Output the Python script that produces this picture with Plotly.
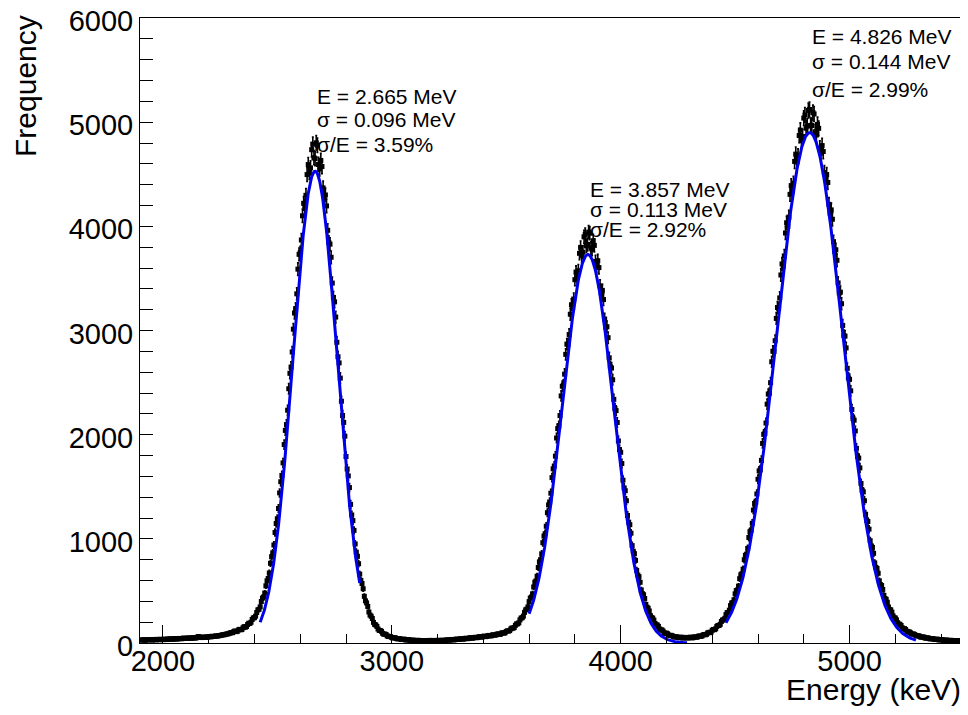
import numpy as np
import plotly.graph_objects as go

# ---------------- data ----------------
bin_width = 5  # keV
energy_keV = list(range(1905, 5500, bin_width))  # bin centres 1905 ... 5495

counts = [
    # 1905 - 2300
    27, 30, 31, 28, 26, 31, 30, 33, 33, 29, 29, 34, 32, 30, 35, 33, 31, 36, 34, 32,
    37, 35, 33, 38, 36, 39, 40, 36, 37, 42, 41, 38, 39, 43, 44, 41, 42, 47, 46, 43,
    44, 49, 48, 45, 46, 50, 51, 47, 49, 55, 62, 58, 55, 52, 53, 57, 58, 54, 56, 60,
    61, 59, 65, 62, 63, 67, 68, 66, 72, 71, 75, 78, 79, 80, 84, 87, 88, 93, 97, 100,
    # 2305 - 3100
    99, 110, 116, 109, 112, 125, 131, 127, 129, 146, 157, 151, 158, 177, 190, 188, 199, 226, 241, 243,
    258, 293, 318, 323, 347, 398, 431, 442, 479, 549, 597, 619, 672, 765, 829, 866, 941, 1061, 1147, 1193,
    1291, 1441, 1548, 1609, 1729, 1905, 2041, 2097, 2235, 2441, 2589, 2649, 2794, 3013, 3168, 3209, 3352, 3589, 3731, 3748,
    3869, 4101, 4221, 4198, 4298, 4497, 4593, 4517, 4561, 4736, 4788, 4659, 4650, 4802, 4779, 4594, 4551, 4632, 4574, 4369,
    4282, 4301, 4196, 3962, 3846, 3829, 3703, 3455, 3318, 3275, 3129, 2887, 2748, 2689, 2543, 2321, 2184, 2118, 1986, 1790,
    1671, 1604, 1492, 1331, 1229, 1175, 1081, 951, 872, 832, 761, 661, 601, 571, 521, 448, 405, 385, 351, 298,
    268, 257, 235, 198, 178, 173, 159, 134, 121, 120, 112, 93, 84, 86, 81, 68, 62, 64, 61, 52,
    48, 51, 50, 43, 39, 42, 41, 35, 33, 37, 36, 30, 29, 32, 31, 26, 25, 28, 27, 24,
    # 3105 - 4300
    23, 25, 26, 22, 21, 24, 24, 21, 20, 24, 23, 21, 25, 22, 21, 25, 24, 21, 22, 25,
    26, 22, 23, 26, 27, 24, 25, 29, 31, 27, 28, 32, 34, 30, 31, 36, 38, 34, 35, 40,
    41, 37, 38, 44, 46, 41, 43, 49, 51, 46, 47, 53, 55, 51, 52, 59, 61, 56, 58, 64,
    66, 61, 63, 70, 73, 68, 69, 77, 79, 75, 77, 85, 88, 83, 85, 95, 99, 94, 98, 110,
    117, 114, 119, 135, 144, 142, 149, 170, 183, 184, 194, 222, 239, 243, 258, 294, 318, 325, 347, 397,
    431, 441, 472, 538, 583, 596, 641, 725, 779, 800, 856, 963, 1027, 1049, 1121, 1251, 1326, 1354, 1438, 1588,
    1672, 1698, 1794, 1968, 2058, 2083, 2183, 2372, 2465, 2477, 2581, 2771, 2869, 2869, 2961, 3156, 3247, 3221, 3302, 3488,
    3561, 3511, 3574, 3741, 3798, 3716, 3752, 3899, 3921, 3812, 3826, 3945, 3934, 3791, 3779, 3862, 3817, 3662, 3618, 3670,
    3604, 3428, 3362, 3385, 3297, 3110, 3031, 3036, 2931, 2738, 2652, 2640, 2527, 2339, 2251, 2231, 2117, 1940, 1856, 1831,
    1723, 1563, 1489, 1462, 1366, 1224, 1160, 1136, 1054, 935, 881, 858, 793, 697, 652, 637, 583, 509, 473, 463,
    427, 371, 344, 334, 307, 263, 244, 239, 220, 188, 174, 173, 159, 135, 125, 126, 115, 99, 92, 95,
    88, 76, 72, 74, 70, 61, 57, 60, 59, 52, 51, 56, 55, 49, 48, 54, 53, 48, 49, 54,
    # 4305 - 5495
    56, 50, 50, 57, 59, 55, 57, 65, 68, 64, 67, 77, 82, 79, 83, 96, 102, 99, 105, 122,
    130, 128, 136, 159, 169, 168, 179, 207, 221, 222, 237, 272, 291, 294, 315, 359, 384, 387, 415, 472,
    503, 506, 546, 618, 655, 664, 709, 799, 842, 848, 908, 1013, 1069, 1082, 1149, 1276, 1340, 1348, 1431, 1572,
    1652, 1662, 1753, 1916, 2003, 2013, 2112, 2293, 2390, 2398, 2499, 2700, 2801, 2799, 2902, 3116, 3221, 3213, 3313, 3533,
    3639, 3617, 3716, 3936, 4034, 3999, 4089, 4307, 4391, 4336, 4415, 4623, 4693, 4618, 4676, 4872, 4923, 4822, 4862, 5039,
    5069, 4942, 4961, 5113, 5122, 4969, 4968, 5092, 5079, 4908, 4877, 4978, 4941, 4751, 4702, 4775, 4718, 4516, 4446, 4497,
    4421, 4211, 4127, 4158, 4068, 3853, 3760, 3775, 3674, 3457, 3361, 3368, 3257, 3049, 2951, 2946, 2833, 2637, 2544, 2531,
    2421, 2241, 2155, 2139, 2036, 1869, 1791, 1775, 1681, 1532, 1464, 1451, 1366, 1236, 1177, 1166, 1093, 982, 931, 918,
    861, 769, 726, 715, 669, 597, 559, 552, 514, 458, 426, 419, 391, 346, 321, 318, 296, 261, 241, 240,
    222, 195, 181, 180, 168, 146, 136, 138, 129, 113, 104, 108, 101, 89, 85, 87, 81, 71, 68, 70,
    66, 58, 55, 59, 56, 48, 46, 50, 47, 41, 39, 43, 41, 35, 33, 37, 36, 30, 29, 33,
    31, 26, 25, 29, 28, 23, 22, 26, 25, 21, 20, 24, 23, 19, 18, 22, 21, 17, 17,
]

# Gaussian fit parameters per peak
peak_mean_keV = [2665, 3857, 4826]
peak_sigma_keV = [96, 113, 144]
peak_amplitude = [4530, 3730, 4900]
fit_low_keV = [2425, 3600, 4460]
fit_high_keV = [2860, 4290, 5290]

# peak labels
label_energy = ["E = 2.665 MeV", "E = 3.857 MeV", "E = 4.826 MeV"]
label_sigma = ["σ = 0.096 MeV", "σ = 0.113 MeV", "σ = 0.144 MeV"]
label_resolution = ["σ/E = 3.59%", "σ/E = 2.92%", "σ/E = 2.99%"]
label_rows_y = [[5251, 5021, 4790], [4358, 4166, 3965], [5827, 5578, 5309]]

x_ticks = [2000, 3000, 4000, 5000]
y_ticks = [0, 1000, 2000, 3000, 4000, 5000, 6000]

# ---------------- figure ----------------
FONT = "Liberation Sans, Arial, Helvetica, sans-serif"
fig = go.Figure()

errors = np.sqrt(np.array(counts, dtype=float))
fig.add_trace(go.Scatter(
    x=energy_keV, y=counts, mode="markers",
    marker=dict(color="black", size=5, symbol="square"),
    error_y=dict(type="data", array=errors, color="black", thickness=1.6, width=1),
    error_x=dict(type="constant", value=bin_width / 2, color="black", thickness=1.6, width=0),
    hoverinfo="x+y", showlegend=False,
))

for mu, sg, amp, lo, hi in zip(peak_mean_keV, peak_sigma_keV, peak_amplitude,
                               fit_low_keV, fit_high_keV):
    xf = np.linspace(lo, hi, 400)
    yf = amp * np.exp(-0.5 * ((xf - mu) / sg) ** 2)
    fig.add_trace(go.Scatter(x=xf, y=yf, mode="lines",
                             line=dict(color="rgb(0,0,235)", width=3),
                             showlegend=False, hoverinfo="skip"))

annotations = []
for i, mu in enumerate(peak_mean_keV):
    for txt, yv in zip([label_energy[i], label_sigma[i], label_resolution[i]], label_rows_y[i]):
        annotations.append(dict(x=mu, y=yv, xref="x", yref="y", text=txt,
                                showarrow=False, xanchor="left", yanchor="middle",
                                font=dict(family=FONT, size=21, color="black")))

annotations.append(dict(text="Frequency", xref="paper", yref="paper",
                        x=-0.1396, y=1.008, xanchor="center", yanchor="top",
                        textangle=-90, showarrow=False,
                        font=dict(family=FONT, size=30, color="black")))
annotations.append(dict(text="Energy (keV)", xref="paper", yref="paper",
                        x=0.9988, y=-0.075, xanchor="right", yanchor="middle",
                        showarrow=False,
                        font=dict(family=FONT, size=30, color="black")))

axis_common = dict(showline=True, mirror=True, linecolor="black", linewidth=1,
                   showgrid=False, zeroline=False, ticks="inside",
                   tickcolor="black", tickwidth=1, ticklabeloverflow="allow",
                   automargin=False,
                   tickfont=dict(family=FONT, size=29, color="black"))

# page body has an 8px margin: figure is sized so the plot frame lands at
# x 140..964, y 18..643 of the 968x715 window
fig.update_layout(
    width=960, height=699,
    margin=dict(l=132, r=4, t=10, b=64, autoexpand=False),
    paper_bgcolor="white", plot_bgcolor="white",
    showlegend=False,
    xaxis=dict(range=[1900, 5500], tickvals=x_ticks, ticklen=18,
               ticklabelstandoff=-8,
               minor=dict(dtick=200, tick0=0, ticklen=9, ticks="inside",
                          tickcolor="black", tickwidth=1, showgrid=False),
               **axis_common),
    yaxis=dict(range=[0, 6000], tickvals=y_ticks, ticklen=13,
               ticklabelshift=3,
               minor=dict(dtick=200, tick0=0, ticklen=13, ticks="inside",
                          tickcolor="black", tickwidth=1, showgrid=False),
               **axis_common),
    annotations=annotations,
)

fig.write_html("out.html")
